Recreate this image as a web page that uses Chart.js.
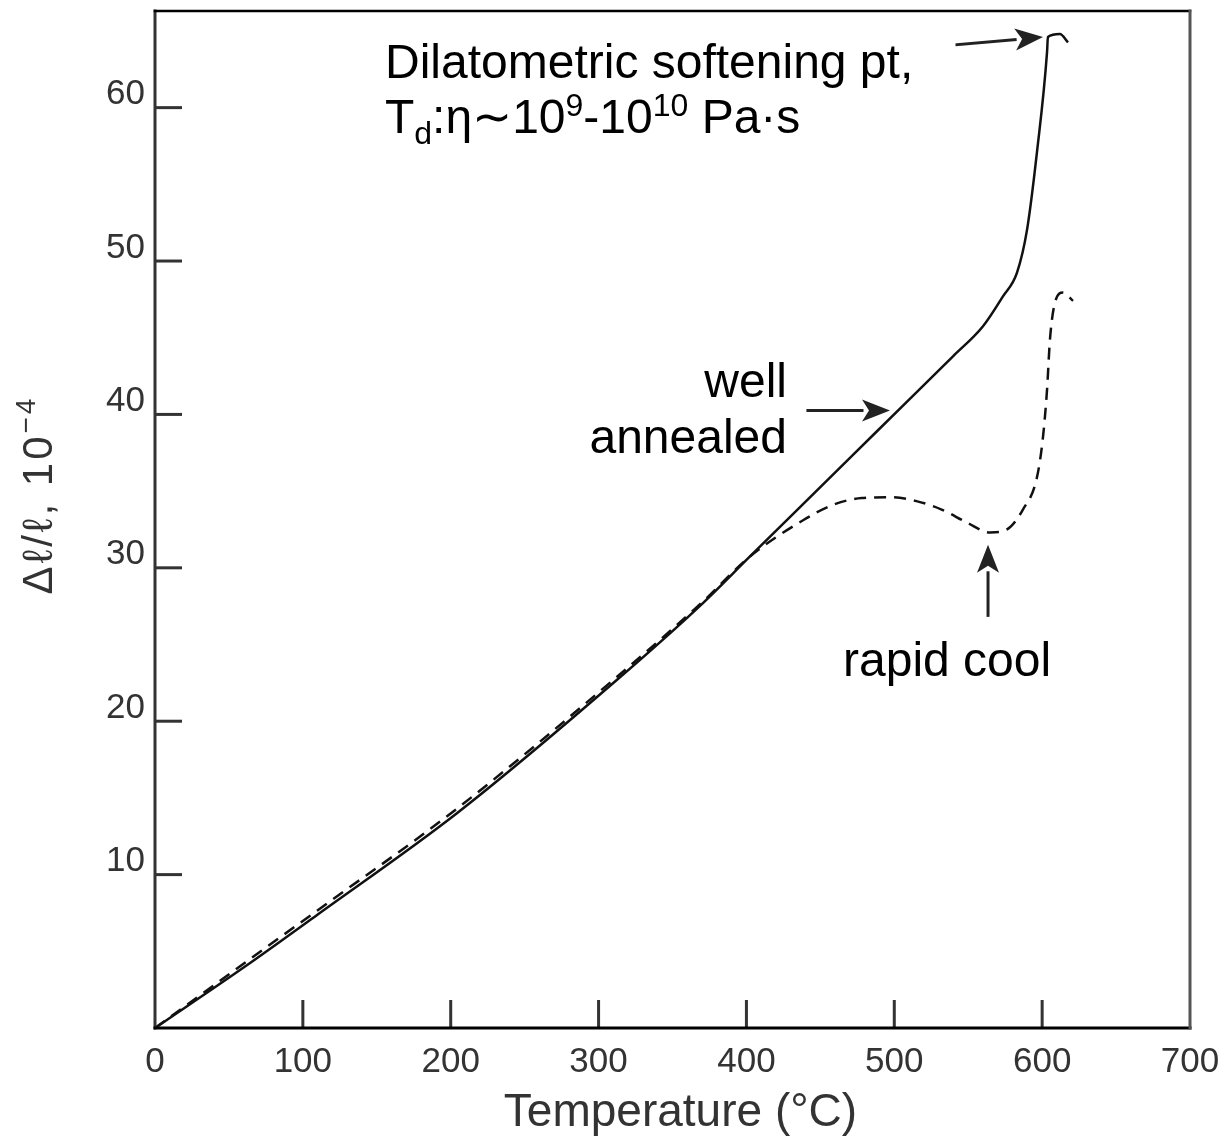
<!DOCTYPE html>
<html>
<head>
<meta charset="utf-8">
<script src="https://cdn.jsdelivr.net/npm/chart.js@4/dist/chart.umd.min.js"></script>
<style>
  html, body { margin: 0; padding: 0; background: #fff; }
  #wrap { width: 1231px; height: 1141px; }
</style>
</head>
<body>
<div id="wrap"><canvas id="chart"></canvas></div>
<script>
// values (temperature in °C, expansion in 10^-4)
const tempAnnealed = [0, 64.3, 109.6, 204.2, 312.5, 370.6, 402.4, 434.2, 470.7, 505.9, 539.7, 560, 573.5, 583, 589.8, 596.5, 603.3, 603.9, 612, 617.5];
const expAnnealed  = [0, 4.24, 7.37, 14.0, 22.7, 27.7, 30.74, 33.76, 37.23, 40.58, 43.79, 45.75, 47.7, 49.25, 52.05, 57.1, 63.6, 64.6, 64.8, 64.25];

const tempRapid = [0, 64.3, 109.6, 204.2, 312.5, 370.6, 402.4, 438.3, 458.5, 478, 498, 515, 532, 549.2, 564.7, 576.2, 587.0, 596.5, 600.6, 603.3, 605.3, 608.7, 614.1, 620.9];
const expRapid  = [0, 4.5, 7.65, 14.3, 22.9, 27.8, 30.74, 33.1, 34.1, 34.55, 34.6, 34.35, 33.8, 32.95, 32.3, 32.5, 33.8, 35.9, 38.55, 41.6, 44.9, 47.3, 47.95, 47.4];

const xTicks = [0, 100, 200, 300, 400, 500, 600, 700];
const yTicks = [10, 20, 30, 40, 50, 60];

const toPoints = (xs, ys) => xs.map((x, i) => ({ x, y: ys[i] }));

// annotation arrows in data coordinates: [fromX, fromY, toX, toY]
const arrows = [
    [542.4, 64.1, 600.6, 64.6],
    [441.6, 40.25, 497.1, 40.25],
    [563.4, 26.9, 563.4, 31.5],
];

const FONT = '"Liberation Sans", Arial, Helvetica, sans-serif';

function drawArrow(ctx, x1, y1, x2, y2) {
    const ang = Math.atan2(y2 - y1, x2 - x1);
    const len = 28, half = 11;
    const bx = x2 - len * Math.cos(ang), by = y2 - len * Math.sin(ang);
    ctx.strokeStyle = '#222';
    ctx.lineWidth = 3;
    ctx.beginPath();
    ctx.moveTo(x1, y1);
    ctx.lineTo(bx, by);
    ctx.stroke();
    ctx.fillStyle = '#222';
    ctx.beginPath();
    ctx.moveTo(x2, y2);
    ctx.lineTo(bx - half * Math.sin(ang), by + half * Math.cos(ang));
    ctx.lineTo(bx + 7 * Math.cos(ang), by + 7 * Math.sin(ang));
    ctx.lineTo(bx + half * Math.sin(ang), by - half * Math.cos(ang));
    ctx.closePath();
    ctx.fill();
}

// draws text runs: [text, size, dy]
function drawRuns(ctx, runs, x, y) {
    let cx = x;
    runs.forEach(([t, size, dy]) => {
        ctx.font = size + 'px ' + FONT;
        ctx.fillText(t, cx, y + dy);
        cx += ctx.measureText(t).width;
    });
}

const framePlugin = {
    id: 'frame',
    afterDraw(chart) {
        const { ctx, chartArea: a, scales: { x, y } } = chart;
        ctx.save();

        // inward ticks
        ctx.strokeStyle = '#333';
        ctx.lineWidth = 3;
        yTicks.forEach(v => {
            const py = y.getPixelForValue(v);
            ctx.beginPath();
            ctx.moveTo(a.left, py);
            ctx.lineTo(a.left + 27, py);
            ctx.stroke();
        });
        xTicks.slice(1, -1).forEach(v => {
            const px = x.getPixelForValue(v);
            ctx.beginPath();
            ctx.moveTo(px, a.bottom);
            ctx.lineTo(px, a.bottom - 28);
            ctx.stroke();
        });

        // frame
        ctx.lineCap = 'square';
        ctx.strokeStyle = '#333';
        ctx.lineWidth = 3;
        ctx.beginPath(); ctx.moveTo(a.left, a.top); ctx.lineTo(a.left, a.bottom); ctx.stroke();
        ctx.strokeStyle = '#000';
        ctx.beginPath(); ctx.moveTo(a.left, a.bottom); ctx.lineTo(a.right, a.bottom); ctx.stroke();
        ctx.lineWidth = 2.5;
        ctx.beginPath(); ctx.moveTo(a.left, a.top); ctx.lineTo(a.right, a.top); ctx.stroke();
        ctx.strokeStyle = '#555';
        ctx.lineWidth = 3;
        ctx.beginPath(); ctx.moveTo(a.right, a.top); ctx.lineTo(a.right, a.bottom); ctx.stroke();

        // axis titles
        ctx.fillStyle = '#333';
        ctx.textAlign = 'center';
        ctx.textBaseline = 'middle';
        ctx.font = '46px ' + FONT;
        ctx.fillText('Temperature (°C)', (a.left + a.right) / 2 + 8, 1113);
        ctx.save();
        ctx.translate(40, 495);
        ctx.rotate(-Math.PI / 2);
        ctx.textAlign = 'left';
        ctx.textBaseline = 'middle';
        ctx.letterSpacing = '3px';
        ctx.font = '42px ' + FONT;
        const base = 'Δℓ/ℓ, 10';
        const w1 = ctx.measureText(base).width;
        ctx.font = '28px ' + FONT;
        const w2 = ctx.measureText('−4').width;
        const sx = -(w1 + w2) / 2;
        ctx.font = '42px ' + FONT;
        ctx.fillText(base, sx, 0);
        ctx.font = '28px ' + FONT;
        ctx.fillText('−4', sx + w1, -13);
        ctx.restore();

        // arrows
        arrows.forEach(([x1, y1, x2, y2]) => {
            drawArrow(ctx,
                x.getPixelForValue(x1), y.getPixelForValue(y1),
                x.getPixelForValue(x2), y.getPixelForValue(y2));
        });

        // annotations
        ctx.fillStyle = '#000';
        ctx.textBaseline = 'alphabetic';
        ctx.textAlign = 'left';
        ctx.font = '48px ' + FONT;
        ctx.fillText('Dilatometric softening pt,', 385, 78);
        drawRuns(ctx, [
            ['T', 48, 0], ['d', 32, 11], [':η∼10', 48, 0], ['9', 32, -17],
            ['-10', 48, 0], ['10', 32, -17], [' Pa·s', 48, 0],
        ], 385, 133);

        ctx.textAlign = 'right';
        ctx.font = '48px ' + FONT;
        ctx.fillText('well', 787, 397);
        ctx.fillText('annealed', 787, 453);
        ctx.textAlign = 'left';
        ctx.fillText('rapid cool', 843, 676);

        ctx.restore();
    },
};

new Chart(document.getElementById('chart'), {
    type: 'line',
    data: {
        datasets: [
            {
                label: 'well annealed',
                data: toPoints(tempAnnealed, expAnnealed),
                borderColor: '#111',
                borderWidth: 2.5,
                pointRadius: 0,
                cubicInterpolationMode: 'monotone',
            },
            {
                label: 'rapid cool',
                data: toPoints(tempRapid, expRapid),
                borderColor: '#111',
                borderWidth: 2.5,
                borderDash: [12, 8],
                pointRadius: 0,
                cubicInterpolationMode: 'monotone',
            },
        ],
    },
    options: {
        responsive: true,
        maintainAspectRatio: false,
        animation: false,
        layout: { padding: { top: 11, right: 41, left: 0, bottom: 0 } },
        plugins: {
            legend: { display: false },
            tooltip: { enabled: false },
        },
        scales: {
            x: {
                type: 'linear',
                min: 0,
                max: 700,
                border: { display: false },
                grid: { display: false },
                afterFit: (s) => { s.height = 113; s.paddingLeft = 0; s.paddingRight = 0; },
                afterBuildTicks: (s) => { s.ticks = xTicks.map(v => ({ value: v })); },
                ticks: {
                    padding: 5,
                    maxRotation: 0,
                    color: '#333',
                    font: { family: FONT, size: 35 },
                },
            },
            y: {
                type: 'linear',
                min: 0,
                max: 66.3,
                border: { display: false },
                grid: { display: false },
                afterFit: (s) => { s.width = 155; s.paddingTop = 0; s.paddingBottom = 0; },
                afterBuildTicks: (s) => { s.ticks = yTicks.map(v => ({ value: v })); },
                ticks: {
                    padding: 2,
                    labelOffset: -13,
                    color: '#333',
                    font: { family: FONT, size: 35 },
                },
            },
        },
    },
    plugins: [framePlugin],
});
</script>
</body>
</html>
